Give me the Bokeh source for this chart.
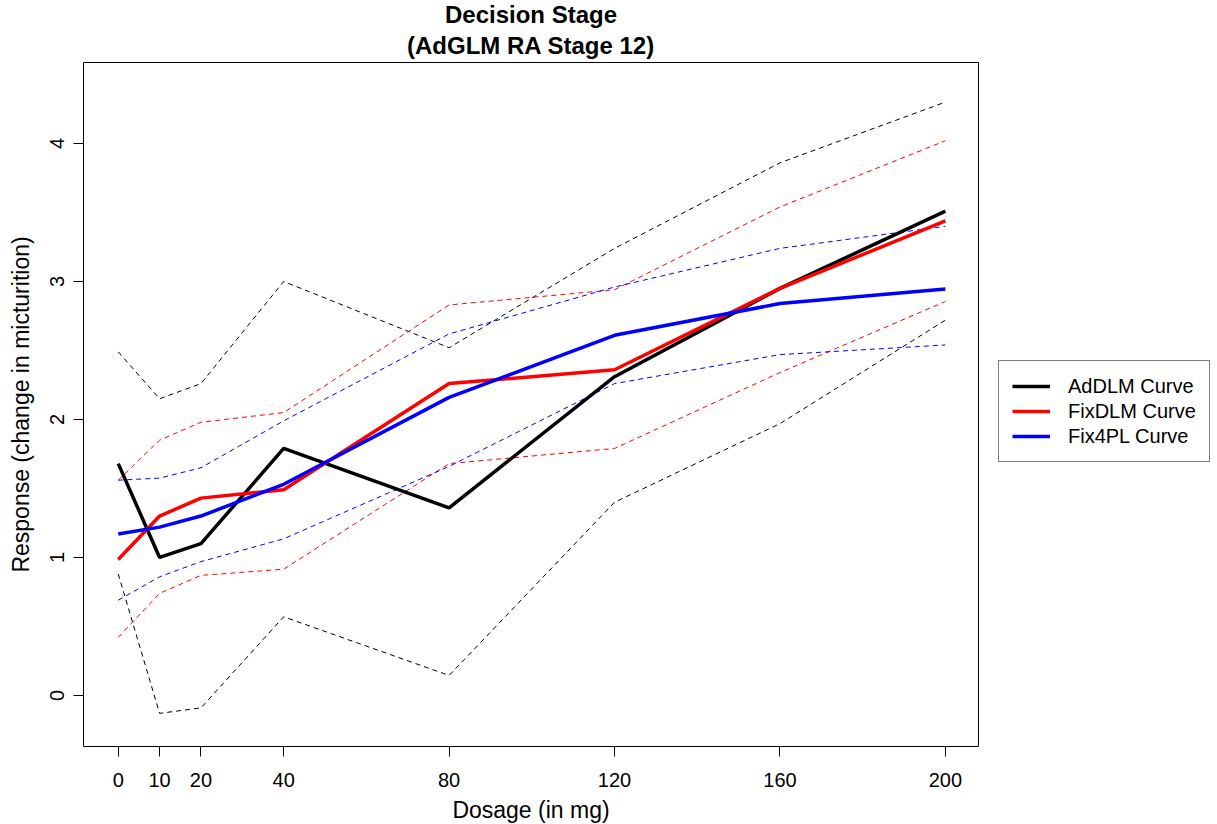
import math
from bokeh.plotting import figure
from bokeh.models import (Range1d, FixedTicker, Legend, LegendItem, Title)
from bokeh.embed import file_html
from bokeh.resources import INLINE

# ---- data ----
dose = [0, 10, 20, 40, 80, 120, 160, 200]
x_ticks = [0, 10, 20, 40, 80, 120, 160, 200]
y_ticks = [0, 1, 2, 3, 4]

ad_mean = [1.68, 1.00, 1.10, 1.79, 1.36, 2.31, 2.95, 3.51]
ad_lower = [0.88, -0.13, -0.09, 0.57, 0.145, 1.40, 1.97, 2.72]
ad_upper = [2.49, 2.15, 2.26, 3.00, 2.52, 3.24, 3.86, 4.30]

fix_mean = [0.985, 1.30, 1.43, 1.49, 2.26, 2.36, 2.95, 3.44]
fix_lower = [0.42, 0.74, 0.87, 0.915, 1.68, 1.79, 2.34, 2.855]
fix_upper = [1.56, 1.85, 1.98, 2.05, 2.83, 2.94, 3.54, 4.02]

pl_mean = [1.17, 1.22, 1.30, 1.53, 2.16, 2.61, 2.84, 2.945]
pl_lower = [0.69, 0.86, 0.97, 1.135, 1.66, 2.26, 2.47, 2.54]
pl_upper = [1.56, 1.575, 1.65, 1.99, 2.62, 2.96, 3.24, 3.40]

series_names = ["AdDLM Curve", "FixDLM Curve", "Fix4PL Curve"]
colors = ["#000000", "#FF0000", "#0000FF"]

FONT = "Liberation Sans"

p = figure(frame_width=895, frame_height=684,
           x_range=Range1d(-8.4, 208.0), y_range=Range1d(-0.370, 4.587),
           output_backend="svg", toolbar_location=None,
           min_border_left=83, min_border_right=10,
           min_border_top=10, min_border_bottom=10,
           background_fill_color="white", border_fill_color="white")

p.xgrid.visible = False
p.ygrid.visible = False
p.outline_line_color = "black"
p.outline_line_width = 1
p.outline_line_alpha = 1.0

for ax, ticks, bounds in ((p.xaxis[0], x_ticks, (0, 200)), (p.yaxis[0], y_ticks, (0, 4))):
    ax.ticker = FixedTicker(ticks=ticks)
    ax.bounds = bounds
    ax.minor_tick_line_color = None
    ax.major_tick_in = 0
    ax.major_tick_out = 10
    ax.major_tick_line_color = "black"
    ax.axis_line_color = "black"
    ax.major_label_text_font = FONT
    ax.major_label_text_font_size = "20px"
    ax.major_label_text_color = "black"
    ax.axis_label_text_font = FONT
    ax.axis_label_text_font_size = "23px"
    ax.axis_label_text_font_style = "normal"
    ax.axis_label_text_color = "black"

p.xaxis.axis_label = "Dosage (in mg)"
p.yaxis.axis_label = "Response (change in micturition)"
p.xaxis.major_label_standoff = 16
p.xaxis.axis_label_standoff = 7
p.yaxis.major_label_orientation = "parallel"
p.yaxis.major_label_standoff = 9
p.yaxis.axis_label_standoff = 14

# titles (last added is on top)
p.add_layout(Title(text="(AdGLM RA Stage 12)", align="center", text_font=FONT,
                   text_font_size="24px", text_font_style="bold",
                   text_color="black", standoff=7), "above")
p.add_layout(Title(text="Decision Stage", align="center", text_font=FONT,
                   text_font_size="24px", text_font_style="bold",
                   text_color="black", standoff=-3), "above")

means = [ad_mean, fix_mean, pl_mean]
lowers = [ad_lower, fix_lower, pl_lower]
uppers = [ad_upper, fix_upper, pl_upper]

for lo, up, c in zip(lowers, uppers, colors):
    p.line(dose, lo, line_color=c, line_width=1, line_dash="5 4")
    p.line(dose, up, line_color=c, line_width=1, line_dash="5 4")

items = []
for m, c, name in zip(means, colors, series_names):
    r = p.line(dose, m, line_color=c, line_width=3.5)
    items.append(LegendItem(label=name, renderers=[r]))

legend = Legend(items=items, location=(20, 284), margin=0,
                padding=13, spacing=1, glyph_width=38, glyph_height=24,
                label_height=24, label_standoff=18,
                label_text_font=FONT, label_text_font_size="20px",
                label_text_color="black",
                border_line_color="black", border_line_width=1,
                background_fill_color="white", background_fill_alpha=1.0)
p.add_layout(legend, "right")

open("out.html", "w").write(file_html(p, INLINE))
